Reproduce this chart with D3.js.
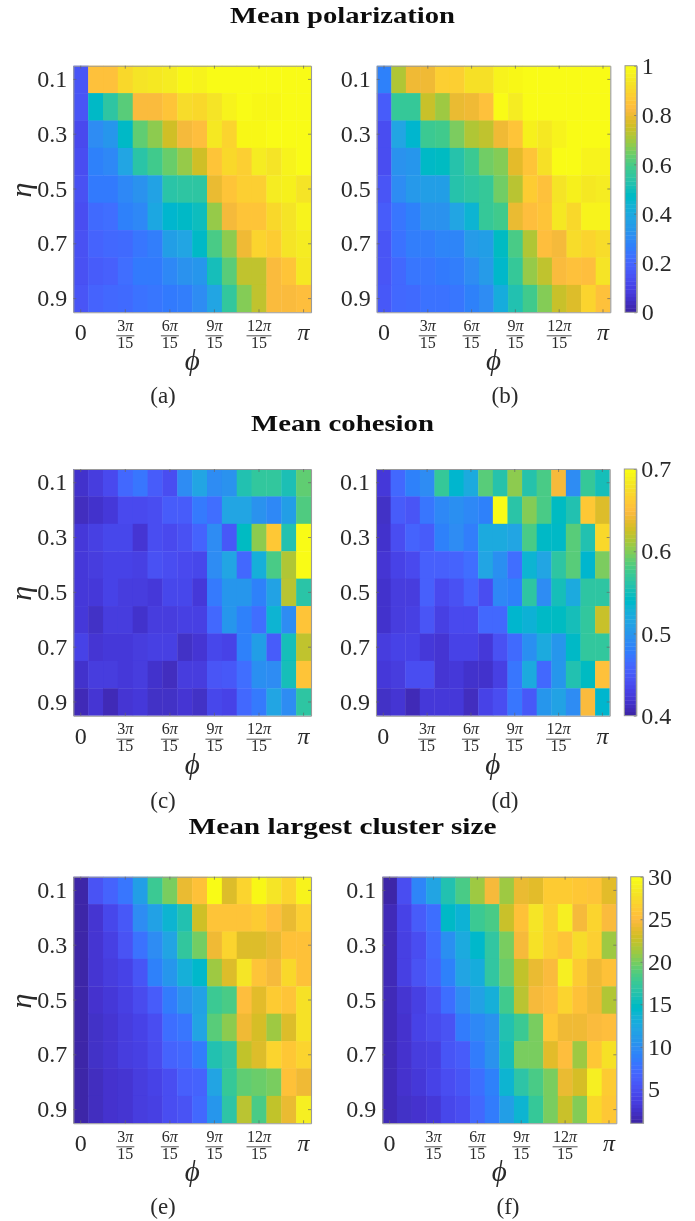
<!DOCTYPE html>
<html><head><meta charset="utf-8">
<script src="https://cdn.jsdelivr.net/npm/d3@7"></script>
<style>html,body{margin:0;padding:0;background:#fff}svg{display:block}
text{font-family:"Liberation Serif",serif;fill:#2a2a2a}</style></head>
<body><svg id="c" width="695" height="1221"></svg>
<script>
const etaValues=[0.1,0.2,0.3,0.4,0.5,0.6,0.7,0.8,0.9];
const phiSteps=d3.range(16);
const etaTicks=[0.1,0.3,0.5,0.7,0.9];
const phiTicks=[0,3,6,9,12,15];
const phiTickLabels=["0","3π/15","6π/15","9π/15","12π/15","π"];
const titles=["Mean polarization","Mean cohesion","Mean largest cluster size"];
const panelLetters=["(a)","(b)","(c)","(d)","(e)","(f)"];
const polarTicks=[0,0.2,0.4,0.6,0.8,1];
const cohesionTicks=[0.4,0.5,0.6,0.7];
const clusterTicks=[5,10,15,20,25,30];

const polarA=[
[.15,.85,.85,.91,.94,.95,.96,.99,.98,1,1,1,1,1,1,1],
[.15,.47,.55,.62,.83,.83,.86,.92,.91,.94,.98,1,.99,.99,1,1],
[.12,.3,.33,.47,.63,.68,.76,.82,.84,.95,.9,.99,.99,1,1,1],
[.13,.27,.29,.38,.54,.59,.64,.69,.76,.86,.91,.89,.96,.94,.98,1],
[.14,.25,.25,.29,.32,.37,.54,.55,.55,.8,.86,.89,.89,.96,.97,.94],
[.13,.21,.22,.27,.29,.39,.45,.47,.49,.69,.82,.86,.86,.91,.94,.98],
[.14,.19,.2,.21,.24,.26,.36,.38,.47,.6,.68,.81,.9,.88,.94,.96],
[.14,.17,.18,.22,.25,.25,.29,.32,.33,.5,.62,.74,.74,.83,.86,.95],
[.15,.19,.2,.21,.23,.24,.25,.26,.3,.38,.56,.67,.74,.83,.83,.84]];
const polarB=[
[.27,.72,.81,.81,.89,.89,.93,.93,.98,.99,1,1,1,1,1,1],
[.17,.57,.57,.75,.7,.8,.81,.85,1,.96,1,1,1,1,1,1],
[.13,.38,.45,.58,.59,.66,.72,.74,.81,.86,.97,.95,.98,1,1,1],
[.13,.32,.33,.47,.48,.53,.58,.65,.67,.79,.86,.93,1,1,.98,.98],
[.15,.3,.34,.36,.36,.53,.55,.57,.65,.73,.88,.85,.94,.97,.95,.96],
[.17,.24,.27,.32,.32,.38,.44,.57,.59,.8,.84,.86,.95,.91,.98,.98],
[.15,.23,.26,.26,.28,.28,.35,.36,.48,.6,.72,.84,.82,.92,.9,.92],
[.15,.2,.24,.24,.25,.26,.3,.35,.46,.57,.69,.74,.83,.85,.84,.94],
[.16,.2,.21,.23,.23,.24,.27,.3,.41,.52,.59,.67,.75,.78,.9,.85]];
const cohesionC=[
[.415,.424,.436,.46,.472,.451,.439,.49,.514,.49,.496,.556,.568,.568,.553,.589],
[.409,.415,.421,.436,.436,.439,.451,.451,.475,.466,.514,.514,.496,.487,.508,.583],
[.421,.427,.433,.433,.418,.439,.436,.442,.457,.49,.448,.544,.604,.661,.556,.70],
[.421,.424,.43,.43,.427,.442,.439,.436,.433,.49,.514,.46,.526,.58,.616,.70],
[.421,.421,.43,.424,.424,.421,.433,.433,.421,.475,.499,.499,.481,.511,.619,.562],
[.421,.412,.424,.424,.415,.424,.424,.427,.427,.46,.499,.481,.466,.532,.49,.658],
[.43,.418,.421,.421,.424,.427,.427,.412,.418,.433,.43,.481,.508,.451,.55,.622],
[.415,.424,.424,.421,.424,.415,.409,.424,.424,.445,.448,.466,.493,.49,.55,.658],
[.406,.418,.406,.418,.421,.412,.412,.418,.412,.433,.43,.46,.475,.514,.49,.565]];
const cohesionD=[
[.421,.46,.481,.49,.571,.535,.52,.586,.559,.604,.559,.58,.646,.49,.571,.55],
[.412,.451,.445,.472,.487,.493,.487,.481,.70,.562,.601,.58,.544,.556,.661,.634],
[.415,.439,.457,.451,.481,.49,.478,.52,.52,.514,.58,.541,.541,.586,.556,.673],
[.418,.43,.436,.454,.454,.457,.466,.514,.493,.466,.532,.514,.565,.586,.535,.598],
[.415,.424,.424,.454,.436,.442,.457,.439,.487,.481,.565,.49,.55,.52,.565,.565],
[.415,.424,.427,.445,.427,.436,.436,.46,.46,.535,.529,.541,.544,.55,.568,.625],
[.424,.43,.43,.421,.418,.43,.43,.421,.442,.463,.493,.52,.499,.541,.568,.568],
[.421,.424,.439,.439,.418,.421,.415,.415,.427,.472,.52,.46,.499,.556,.544,.655],
[.412,.418,.406,.421,.421,.421,.409,.43,.439,.472,.448,.499,.511,.49,.649,.535]];
const clusterE=[
[1,5.1,6.5,8,11.4,17.8,20.1,24.2,25.7,30,23.6,27.1,29.7,28.3,27.1,29.4],
[1,2.7,4.2,5.6,9.7,11.7,13.8,16.1,23,25.9,25.9,25.9,26.5,25.4,24.2,26.8],
[1,2.7,3.6,5.1,7.7,9.7,12,17.2,19.9,24.5,27.1,23.6,23.6,24.2,25.7,25.7],
[1,2.7,3.3,3.9,5.4,8.8,10.6,13.2,14.3,21.3,23.6,28.3,25.9,24.8,27.4,25.7],
[1,2.5,3,3.6,4.5,5.9,8.3,10.3,11.7,17.8,18.4,25.4,23.9,26.5,25.9,28],
[1,2.2,2.7,3.3,3.9,4.8,7.4,8,12,19,20.7,24.5,23.3,21.3,23.6,28],
[1,2.2,2.7,3.3,3.6,4.5,6.5,6.8,8.3,16.1,17,22.5,23.6,27.1,26.2,27.1],
[1,1.9,2.5,2.7,3.3,3.9,4.8,6.2,6.5,12,17.5,19.3,19.6,20.1,25.7,24.5],
[1,1.9,2.5,2.7,3.3,3.6,4.8,5.1,6.8,10.6,16.7,22.2,18.4,22.5,24.2,29.1]];
const clusterF=[
[1,4.8,9.1,12,16.1,18.4,21.3,24.8,21.3,24.2,23.9,26.5,26.5,26.2,25.9,23.9],
[1.6,3.9,5.9,7.4,14.6,13.5,17.8,18.4,22.8,25.7,28.3,26.8,29.1,24.8,27.1,25.1],
[1.6,3.6,4.8,6.8,10,12.6,14.3,17,20.1,24.8,28,26.8,25.9,27.7,26.8,21.3],
[1.6,3.6,5.1,6.5,8.8,12,12.9,17,19.6,22.5,24.2,25.1,29.1,26.5,24.5,25.7],
[1.6,2.7,3.6,5.1,7.4,9.7,11.7,13.2,18.1,22.2,24.8,25.4,27.1,25.7,24.5,21.9],
[1.6,2.5,3.9,4.5,5.1,8.3,9.4,10.3,16.1,17.8,20.1,26.2,24.5,24.5,25.1,25.4],
[1.6,2.5,3.3,3.6,5.4,5.9,8.3,10.3,15.5,20.1,20.1,23.9,25.4,21.3,26.2,28],
[1.6,2.5,3,3.9,4.8,5.4,7.4,8.8,13.8,16.7,18.4,20.1,24.2,23.3,29.1,26.5],
[1.6,2.2,2.5,3,4.2,4.8,6.8,8.3,11.4,13.8,17.5,20.1,22.8,20.4,27.4,26.2]];

const parula=[[.2422,.1504,.6603],[.2504,.165,.7076],[.2578,.1818,.7511],[.2647,.1978,.7952],[.2706,.2147,.8364],[.2751,.2342,.871],[.2783,.2559,.8991],[.2803,.2782,.9221],[.2813,.3006,.9414],[.281,.3228,.9579],[.2795,.3447,.9717],[.276,.3667,.9829],[.2699,.3892,.9906],[.2602,.4123,.9952],[.244,.4358,.9988],[.2206,.4603,.9973],[.1963,.4847,.9892],[.1834,.5074,.9798],[.1786,.5289,.9682],[.1764,.5499,.952],[.1687,.5703,.9359],[.154,.5902,.9218],[.146,.6091,.9079],[.138,.6276,.8973],[.1248,.6459,.8883],[.1113,.6635,.8763],[.0952,.6798,.8598],[.0689,.6948,.8394],[.0297,.7082,.8163],[.0036,.7203,.7917],[.0067,.7312,.766],[.0433,.7411,.7394],[.0964,.75,.712],[.1408,.7584,.6842],[.1717,.767,.6554],[.1938,.7758,.6251],[.2161,.7843,.5923],[.247,.7918,.5567],[.2906,.7973,.5188],[.3406,.8008,.4789],[.3909,.8029,.4354],[.4456,.8024,.3909],[.5044,.7993,.348],[.5616,.7942,.3045],[.6174,.7876,.2612],[.672,.7793,.2227],[.7242,.7698,.191],[.7738,.7598,.1646],[.8203,.7498,.1535],[.8634,.7406,.1596],[.9035,.733,.1774],[.9393,.7288,.21],[.9728,.7298,.2394],[.9956,.7434,.2371],[.997,.7659,.2199],[.9952,.7893,.2028],[.9892,.8136,.1885],[.9786,.8386,.1766],[.9676,.8639,.1643],[.961,.889,.1537],[.9597,.9135,.1423],[.9628,.9373,.1265],[.9691,.9606,.1064],[.9769,.9839,.0805]]
 .map(c=>d3.rgb(c[0]*255,c[1]*255,c[2]*255).formatHex());

const root=d3.select("#c");
const f=root.append("defs").append("filter").attr("id","soft").attr("filterUnits","userSpaceOnUse")
  .attr("x",0).attr("y",0).attr("width",695).attr("height",1221);
f.append("feGaussianBlur").attr("stdDeviation",0.45);
const svg=root.append("g").attr("filter","url(#soft)");
const BOX="#9a9a9a", TICK="#666";
const FS=24, FRAC=16;

titles.forEach((t,i)=>{
  svg.append("text").attr("x",342.5).attr("y",[22.7,430.5,833.5][i])
    .attr("text-anchor","middle").attr("textLength",[225,183,308][i]).attr("lengthAdjust","spacingAndGlyphs")
    .style("font-weight","bold").style("font-size","24px")
    .style("fill","#111").text(t);
});

const rows=[{top:65.7,bot:312.3,ly:403},{top:469,bot:715.7,ly:808},{top:876.7,bot:1123.3,ly:1214}];
const panels=[
 {d:polarA,x0:73.3,x1:311,row:0,dom:[0,1],lab:0,lx:163},
 {d:polarB,x0:376.7,x1:610.3,row:0,dom:[0,1],lab:1,lx:505,cb:[625,636.7],ticks:polarTicks,fmt:d=>String(d)},
 {d:cohesionC,x0:73.3,x1:311,row:1,dom:[.4,.7],lab:2,lx:163},
 {d:cohesionD,x0:376,x1:609.7,row:1,dom:[.4,.7],lab:3,lx:505,cb:[624.3,636.3],ticks:cohesionTicks,fmt:d3.format(".1f")},
 {d:clusterE,x0:73.3,x1:311,row:2,dom:[1,30],lab:4,lx:163},
 {d:clusterF,x0:382.3,x1:616.3,row:2,dom:[1,30],lab:5,lx:508,cb:[630.7,643],ticks:clusterTicks,fmt:String}
];

function colorFor(dom){
  return d3.scaleLinear().domain(d3.range(64).map(i=>dom[0]+(dom[1]-dom[0])*i/63)).range(parula).clamp(true);
}
function styleAxis(g){
  g.selectAll(".domain").attr("stroke",BOX).attr("stroke-width",1.1);
  g.selectAll(".tick line").attr("stroke",TICK).attr("stroke-width",.7);
}

panels.forEach(p=>{
  const R=rows[p.row];
  const x=d3.scaleBand().domain(phiSteps).range([p.x0,p.x1]);
  const y=d3.scaleBand().domain(etaValues).range([R.top,R.bot]);
  const color=colorFor(p.dom);
  const g=svg.append("g");
  const cells=p.d.flatMap((r,ri)=>r.map((v,ci)=>({v,ci,eta:etaValues[ri]})));
  g.selectAll("rect").data(cells).join("rect")
    .attr("x",d=>x(d.ci)).attr("y",d=>y(d.eta))
    .attr("width",d=>x.bandwidth()+(d.ci<15?.4:0)).attr("height",d=>y.bandwidth()+(d.eta<.9?.4:0))
    .attr("fill",d=>color(d.v));

  const left=svg.append("g").attr("transform",`translate(${p.x0},0)`)
    .call(d3.axisLeft(y).tickValues(etaTicks).tickSizeInner(-3).tickSizeOuter(0).tickPadding(6).tickFormat(d3.format(".1f")));
  left.selectAll("text").style("font-size",FS+"px");
  styleAxis(left);
  const right=svg.append("g").attr("transform",`translate(${p.x1},0)`)
    .call(d3.axisRight(y).tickValues(etaTicks).tickSizeInner(-3).tickSizeOuter(0).tickFormat(""));
  styleAxis(right);
  const top=svg.append("g").attr("transform",`translate(0,${R.top})`)
    .call(d3.axisTop(x).tickValues(phiTicks).tickSizeInner(-3).tickSizeOuter(0).tickFormat(""));
  styleAxis(top);
  const bottom=svg.append("g").attr("transform",`translate(0,${R.bot})`)
    .call(d3.axisBottom(x).tickValues(phiTicks).tickSizeInner(-3).tickSizeOuter(0).tickFormat(""));
  styleAxis(bottom);
  bottom.selectAll(".tick").each(function(d,i){
    const t=d3.select(this), lab=phiTickLabels[i];
    t.select("text").remove();
    if(lab.includes("/")){
      const [n,den]=lab.split("/");
      const w=n.length>2?25:18;
      const num=t.append("text").attr("text-anchor","middle").attr("y",18.5).style("font-size",FRAC+"px");
      num.append("tspan").text(n.slice(0,-1));
      num.append("tspan").style("font-style","italic").text("π");
      t.append("line").attr("x1",-w/2).attr("x2",w/2).attr("y1",23.5).attr("y2",23.5).attr("stroke","#2a2a2a").attr("stroke-width",.8);
      t.append("text").attr("text-anchor","middle").attr("y",35.5).style("font-size",FRAC+"px").text(den);
    } else {
      t.append("text").attr("text-anchor","middle").attr("y",28).style("font-size",FS+"px")
       .style("font-style",lab==="π"?"italic":"normal").text(lab);
    }
  });

  if(p.lab%2===0){
    svg.append("text").attr("transform",`translate(31,${(R.top+R.bot)/2+1}) rotate(-90)`)
      .attr("text-anchor","middle").style("font-size","30px").style("font-style","italic").text("η");
  }
  svg.append("text").attr("x",(p.x0+p.x1)/2).attr("y",R.bot+58).attr("text-anchor","middle")
    .style("font-size","29px").style("font-style","italic").text("ϕ");
  svg.append("text").attr("x",p.lx).attr("y",R.ly).attr("text-anchor","middle")
    .style("font-size","23px").text(panelLetters[p.lab]);

  if(p.cb){
    const cy=d3.scaleLinear().domain(p.dom).range([R.bot,R.top]);
    const steps=d3.range(64);
    const bh=(R.bot-R.top)/64;
    svg.append("g").selectAll("rect").data(steps).join("rect")
      .attr("x",p.cb[0]).attr("width",p.cb[1]-p.cb[0])
      .attr("y",i=>cy(p.dom[0]+(p.dom[1]-p.dom[0])*(i+1)/64)).attr("height",i=>bh+(i>0?.4:0))
      .attr("fill",i=>parula[i]);
    const ax=svg.append("g").attr("transform",`translate(${p.cb[1]},0)`)
      .call(d3.axisRight(cy).tickValues(p.ticks).tickSizeInner(-2.5).tickSizeOuter(0).tickPadding(5).tickFormat(p.fmt));
    ax.selectAll("text").style("font-size",FS+"px");
    styleAxis(ax);
    svg.append("rect").attr("x",p.cb[0]).attr("y",R.top).attr("width",p.cb[1]-p.cb[0]).attr("height",R.bot-R.top)
      .attr("fill","none").attr("stroke",BOX).attr("stroke-width",1);
  }
});
</script></body></html>
